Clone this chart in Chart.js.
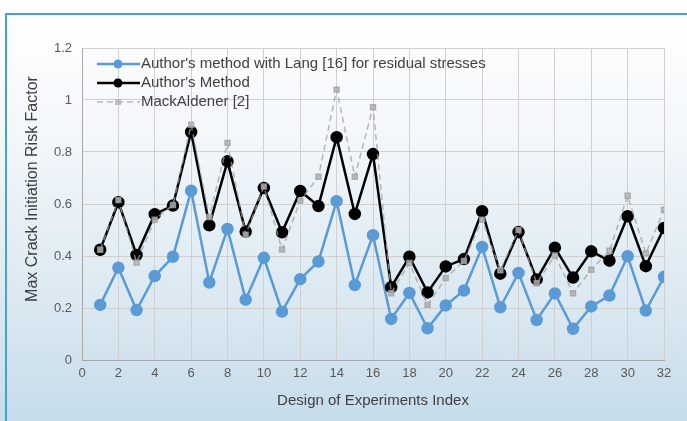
<!DOCTYPE html>
<html>
<head>
<meta charset="utf-8">
<script src="https://cdn.jsdelivr.net/npm/chart.js@4.4.1/dist/chart.umd.min.js"></script>
<style>
  html, body { margin: 0; padding: 0; }
  body {
    width: 687px; height: 421px; overflow: hidden; position: relative;
    background: linear-gradient(to bottom, #ffffff 0%, #f4f8fb 30%, #dce9f2 70%, #c6dcea 100%);
  }
  #frame {
    position: absolute; left: 5px; top: 13px; right: -4px; bottom: -4px;
    border-left: 2px solid #4aa0d3; border-top: 2px solid #4aa0d3;
  }
  #wrap { position: absolute; left: 0; top: 0; width: 687px; height: 421px; }
</style>
</head>
<body>
<div id="frame"></div>
<div id="wrap"><canvas id="risk-chart" width="687" height="421"></canvas></div>
<script>
const doeIndex = [1, 2, 3, 4, 5, 6, 7, 8, 9, 10, 11, 12, 13, 14, 15, 16,
  17, 18, 19, 20, 21, 22, 23, 24, 25, 26, 27, 28, 29, 30, 31, 32];

const langValues = [0.212, 0.355, 0.192, 0.323, 0.397, 0.651, 0.298, 0.504,
  0.232, 0.393, 0.186, 0.311, 0.379, 0.611, 0.288, 0.48,
  0.158, 0.258, 0.122, 0.21, 0.267, 0.435, 0.203, 0.335,
  0.154, 0.256, 0.12, 0.206, 0.248, 0.399, 0.19, 0.32];

const authorValues = [0.424, 0.607, 0.404, 0.561, 0.594, 0.877, 0.518, 0.764,
  0.494, 0.662, 0.491, 0.65, 0.592, 0.857, 0.562, 0.792,
  0.28, 0.397, 0.26, 0.36, 0.388, 0.572, 0.332, 0.492,
  0.31, 0.432, 0.317, 0.418, 0.382, 0.553, 0.361, 0.508];

const mackValues = [0.424, 0.615, 0.375, 0.54, 0.596, 0.905, 0.55, 0.835,
  0.482, 0.667, 0.425, 0.613, 0.705, 1.04, 0.705, 0.972,
  0.257, 0.373, 0.212, 0.315, 0.381, 0.54, 0.345, 0.5,
  0.295, 0.402, 0.257, 0.347, 0.42, 0.632, 0.41, 0.578];

const yTicks = [0, 0.2, 0.4, 0.6, 0.8, 1, 1.2];

const seriesNames = [
  "Author's method with Lang [16] for residual stresses",
  "Author's Method",
  "MackAldener [2]"
];
const yTitle = "Max Crack Initiation Risk Factor";

const FONT = "'Liberation Sans', Arial, sans-serif";

function toPoints(values) {
  return values.map((v, i) => ({ x: doeIndex[i], y: v }));
}

// legend drawn inside the plot, and the y title, like the original
const insideLegend = {
  id: "insideLegend",
  afterDraw(chart) {
    const ctx = chart.ctx;
    const rows = [64, 83, 102];
    ctx.save();
    chart.data.datasets.forEach((ds, i) => {
      const y = rows[i];
      ctx.strokeStyle = ds.borderColor;
      ctx.lineWidth = ds.borderWidth;
      ctx.setLineDash(ds.borderDash || []);
      ctx.beginPath();
      ctx.moveTo(97, y);
      ctx.lineTo(140, y);
      ctx.stroke();
      ctx.setLineDash([]);
      ctx.fillStyle = ds.pointBackgroundColor;
      if (ds.pointStyle === "rect") {
        ctx.fillRect(115, y - 3, 6, 6);
      } else {
        ctx.beginPath();
        ctx.arc(118, y, 4.5, 0, Math.PI * 2);
        ctx.fill();
      }
      ctx.fillStyle = "#404040";
      ctx.font = "15px " + FONT;
      ctx.textBaseline = "middle";
      ctx.fillText(ds.label, 141, y);
    });

    ctx.translate(33, 189);
    ctx.rotate(-Math.PI / 2);
    ctx.font = "16px " + FONT;
    ctx.fillStyle = "#404040";
    ctx.textAlign = "center";
    ctx.textBaseline = "middle";
    ctx.fillText(yTitle, 0, 0);
    ctx.restore();
  }
};

new Chart("risk-chart", {
  type: "line",
  data: {
    datasets: [
      {
        label: seriesNames[0],
        data: toPoints(langValues),
        borderColor: "#5b9bd5",
        backgroundColor: "#5b9bd5",
        pointBackgroundColor: "#5b9bd5",
        pointBorderColor: "#5b9bd5",
        borderWidth: 2.5,
        pointRadius: 5,
        order: 3,
      },
      {
        label: seriesNames[1],
        data: toPoints(authorValues),
        borderColor: "#000000",
        backgroundColor: "#000000",
        pointBackgroundColor: "#000000",
        pointBorderColor: "#000000",
        borderWidth: 2.5,
        pointRadius: 5,
        order: 2,
      },
      {
        label: seriesNames[2],
        data: toPoints(mackValues),
        borderColor: "rgba(160,160,160,0.75)",
        backgroundColor: "rgba(180,180,180,0.8)",
        pointBackgroundColor: "rgba(180,180,180,0.8)",
        pointBorderColor: "rgba(160,160,160,0.8)",
        borderWidth: 1.5,
        borderDash: [6, 4],
        pointStyle: "rect",
        pointRadius: 3.5,
        order: 1,
      },
    ],
  },
  options: {
    responsive: false,
    animation: false,
    layout: { padding: { left: 22, right: 23, top: 48, bottom: 11 } },
    plugins: {
      legend: { display: false },
      tooltip: { enabled: false },
    },
    scales: {
      x: {
        type: "linear",
        min: 0,
        max: 32,
        ticks: {
          stepSize: 2,
          color: "#595959",
          padding: 6,
          maxRotation: 0,
          font: { family: FONT, size: 13 },
        },
        grid: { color: "#d0d0d0", drawTicks: false },
        border: { color: "#a6a6a6" },
        title: {
          display: true,
          text: "Design of Experiments Index",
          color: "#404040",
          padding: { top: 0, bottom: 0 },
          font: { family: FONT, size: 15 },
        },
        afterFit(scale) { scale.height = 50; },
      },
      y: {
        min: 0,
        max: 1.2,
        afterBuildTicks(scale) { scale.ticks = yTicks.map(v => ({ value: v })); },
        ticks: {
          color: "#595959",
          padding: 10,
          font: { family: FONT, size: 13 },
          callback: v => String(Math.round(v * 10) / 10),
        },
        grid: { color: "#d0d0d0", drawTicks: false },
        border: { color: "#a6a6a6" },
        afterFit(scale) { scale.width = 60; },
      },
    },
  },
  plugins: [insideLegend],
});
</script>
</body>
</html>
